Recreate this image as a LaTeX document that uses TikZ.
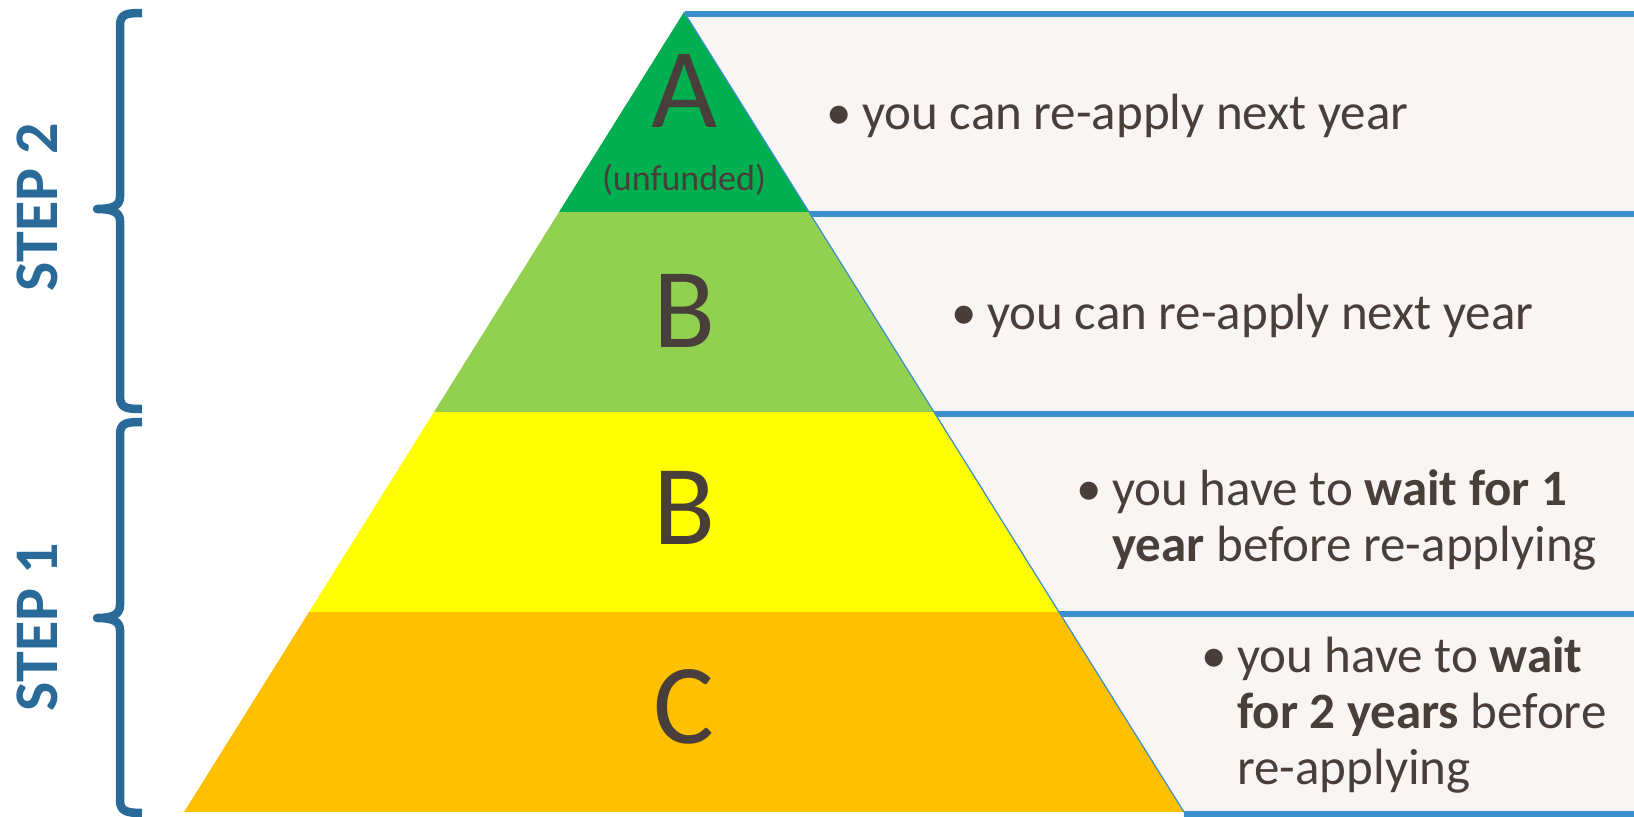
\documentclass[tikz,border=0pt]{standalone}
\usepackage{fontspec}
\setmainfont{Carlito}
\usetikzlibrary{calc}
\definecolor{dgreen}{HTML}{00B050}
\definecolor{lgreen}{HTML}{92D050}
\definecolor{yel}{HTML}{FFFF00}
\definecolor{ora}{HTML}{FFC000}
\definecolor{panelfill}{HTML}{F8F5F4}
\definecolor{panelline}{HTML}{3A8FCC}
\definecolor{bracecol}{HTML}{2A6A98}
\definecolor{txt}{HTML}{483E3A}
\begin{document}
\begin{tikzpicture}[x=1pt,y=-1pt,
  sepline/.style={panelline,line width=6.5pt},
  bracepath/.style={bracecol,line width=8.5pt,line join=round},
  steplabel/.style={bracecol,font=\fontsize{62}{70}\selectfont\bfseries,rotate=90,inner sep=0pt},
  bigletter/.style={txt,font=\fontsize{114}{120}\selectfont,inner sep=0pt,anchor=base},
  bullettext/.style={txt,font=\fontsize{51}{56}\selectfont,inner sep=0pt,anchor=base west},
]
\useasboundingbox (0,0) rectangle (1634,817);
% pyramid corners
\coordinate (apex) at (684,12);
\coordinate (BL) at (184,812);
\coordinate (BR) at (1184,812);
\coordinate (L1) at ($(apex)!0.25!(BL)$);
\coordinate (R1) at ($(apex)!0.25!(BR)$);
\coordinate (L2) at ($(apex)!0.5!(BL)$);
\coordinate (R2) at ($(apex)!0.5!(BR)$);
\coordinate (L3) at ($(apex)!0.75!(BL)$);
\coordinate (R3) at ($(apex)!0.75!(BR)$);
% right panels
\fill[panelfill] (apex) -- (1634,12) -- (1634,812) -- (BR) -- cycle;
\coordinate (e0) at (685,14);   \coordinate (r0) at (1634,14);
\coordinate (e1) at (790,214);  \coordinate (r1) at (1634,214);
\coordinate (e2) at (915,414);  \coordinate (r2) at (1634,414);
\coordinate (e3) at (1040,614); \coordinate (r3) at (1634,614);
\coordinate (e4) at (1184,814); \coordinate (r4) at (1634,814);
\foreach \i in {0,...,4} \draw[sepline] (e\i) -- (r\i);
% pyramid bands
\fill[dgreen] (apex) -- (R1) -- (L1) -- cycle;
\fill[lgreen] (L1) -- (R1) -- (R2) -- (L2) -- cycle;
\fill[yel] (L2) -- (R2) -- (R3) -- (L3) -- cycle;
\fill[ora] (L3) -- (R3) -- (BR) -- (BL) -- cycle;
\draw[panelline,line width=1.2pt] (apex) -- (BR);
% letters
\node[bigletter] (la) at (684,127) {A};
\node[txt,font=\fontsize{36}{40}\selectfont,inner sep=0pt,anchor=base] (unf) at (684,190) {(unfunded)};
\node[bigletter] (lb1) at (684,347) {B};
\node[bigletter] (lb2) at (684,544) {B};
\node[bigletter] (lc) at (684,743) {C};
% panel texts
\node[bullettext] (t1) at (826,129) {\begin{tabular}[t]{@{}l@{}l@{}}\makebox[36pt][l]{•}&you can re-apply next year\end{tabular}};
\node[bullettext] (t2) at (951,329) {\begin{tabular}[t]{@{}l@{}l@{}}\makebox[36pt][l]{•}&you can re-apply next year\end{tabular}};
\node[bullettext] (t3) at (1076,505) {\begin{tabular}[t]{@{}l@{}l@{}}\makebox[36pt][l]{•}&you have to \textbf{wait for 1}\\&\textbf{year} before re-applying\end{tabular}};
\node[bullettext] (t4) at (1201,672) {\begin{tabular}[t]{@{}l@{}l@{}}\makebox[36pt][l]{•}&you have to \textbf{wait}\\&\textbf{for 2 years} before\\&re-applying\end{tabular}};
% braces
\draw[bracepath] (142,13) .. controls (126,13) and (120,14) .. (120,26) -- (120,197)
  .. controls (120,206) and (112,209) .. (97,209)
  .. controls (112,209) and (120,212) .. (120,221) -- (120,396)
  .. controls (120,408) and (126,409) .. (142,409);
\draw[bracepath] (142,422) .. controls (126,422) and (120,423) .. (120,435) -- (120,605)
  .. controls (120,615) and (112,618) .. (97,618)
  .. controls (112,618) and (120,621) .. (120,630) -- (120,800)
  .. controls (120,811) and (126,813) .. (142,813);
\node[steplabel] (s2) at (37,207) {STEP 2};
\node[steplabel] (s1) at (37,627) {STEP 1};
\end{tikzpicture}
\end{document}
